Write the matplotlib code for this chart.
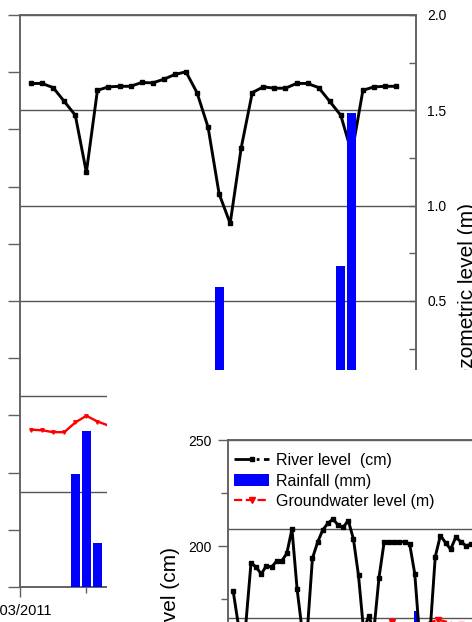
import numpy as np
import matplotlib
matplotlib.use("Agg")
import matplotlib.pyplot as plt
from matplotlib.patches import Rectangle, Patch
from matplotlib.lines import Line2D
from matplotlib.transforms import ScaledTranslation
from matplotlib.ticker import MultipleLocator, FixedLocator, FixedFormatter, FuncFormatter

plt.rcParams['font.family'] = ['Liberation Sans', 'DejaVu Sans']

# ---------------- data: main panel (daily series) ----------------
top_days = list(range(34))
top_river = [1.641, 1.641, 1.619, 1.547, 1.474, 1.175, 1.605, 1.623, 1.626, 1.626,
             1.646, 1.644, 1.663, 1.688, 1.702, 1.593, 1.412, 1.062, 0.907, 1.304,
             1.593, 1.623, 1.616, 1.616, 1.641, 1.641, 1.619, 1.547, 1.474, 1.274,
             1.605, 1.623, 1.626, 1.626]
top_gw_days = list(range(8))
top_gw = [-0.175, -0.178, -0.188, -0.188, -0.137, -0.102, -0.132, -0.153]
top_rain_days = [4, 5, 6, 17, 28, 29]
top_rain = [19.8, 27.3, 7.7, 52.4, 56.1, 82.9]
top_xticks_major = [-1, 11, 23]
top_xticklabels = ["01/03/2011", "", ""]
top_xticks_minor = [5, 17, 29]

# ---------------- data: inset panel ----------------
br_days = [0.5, 1.7, 2.8] + list(range(4, 48))
br_river = [178.9, 160, 158,
            192.1, 190.0, 186.8, 190.7, 190.0, 192.9, 192.9, 196.6, 208.0, 179.7,
            160, 160, 194.2, 201.7, 207.5, 210.7, 212.7, 209.9, 208.8, 212.0,
            203.4, 186.1, 160, 167.0, 160, 185.0, 201.7, 201.7, 202.0, 202.0,
            202.0, 200.9, 186.8, 155, 150, 160, 195.0, 204.9, 201.6, 198.4,
            204.1, 202.0, 200.1, 200.8]
br_rain_days = [36.3]
br_rain = [46.2]
br_gw_days = [27, 31.5, 36, 40.6, 45]
br_gw = [0.95, 0.975, 0.95, 0.99, 0.96]

W, H, DPI = 472, 622, 100
fig = plt.figure(figsize=(W / DPI, H / DPI), dpi=DPI)
fig.patch.set_facecolor('white')


def box(l, t, r, b):
    return [l / W, 1 - b / H, (r - l) / W, (b - t) / H]


SP = '#606060'
GRID = '#555555'

# ---------------- main panel ----------------
ax1 = fig.add_axes(box(20, 15, 416, 587))
ax1r = ax1.twinx()
ax1r.set_zorder(0)
ax1.set_zorder(0.5)
ax1.patch.set_visible(False)

ax1r.plot(top_days, top_river, color='black', lw=2.1, marker='s', ms=2.2,
          zorder=3)
ax1r.plot(top_gw_days, top_gw, color='red', lw=1.7, marker='v', ms=2.5,
          zorder=3)
ax1.bar(top_rain_days, top_rain, width=0.8, color='#0000FF', zorder=4)

ax1.set_xlim(-1, 34.8)
ax1.set_ylim(0, 100)
ax1.yaxis.set_major_locator(MultipleLocator(10))
ax1.tick_params(axis='y', which='major', direction='out', length=9, width=1,
                color=SP, labelleft=False)
ax1.xaxis.set_major_locator(FixedLocator(top_xticks_major))
ax1.xaxis.set_major_formatter(FixedFormatter(top_xticklabels))
ax1.xaxis.set_minor_locator(FixedLocator(top_xticks_minor))
ax1.tick_params(axis='x', which='major', direction='out', length=7.5, width=1,
                color=SP, labelsize=10.5, pad=5)
ax1.tick_params(axis='x', which='minor', direction='out', length=4.5, width=1,
                color=SP)
shift = ScaledTranslation(-4 / DPI, 0, fig.dpi_scale_trans)
for lab in ax1.get_xticklabels():
    lab.set_transform(lab.get_transform() + shift)

ax1r.set_ylim(-1, 2)
ax1r.yaxis.set_major_locator(MultipleLocator(0.5))
ax1r.yaxis.set_minor_locator(MultipleLocator(0.25))
# labels below 0.5 lie in the hidden (covered) part of the panel
ax1r.yaxis.set_major_formatter(FuncFormatter(lambda v, p: f'{v:.1f}' if v > 0.25 else ''))
ax1r.tick_params(axis='y', which='both', direction='in', length=5, width=1,
                 color=SP, labelsize=10, pad=8)
ax1r.grid(axis='y', which='major', color=GRID, lw=1.0)
ax1r.set_ylabel('Piezometric level (m)', fontsize=15)
ax1r.yaxis.set_label_coords(1.105, 0.5)

for a in (ax1, ax1r):
    for s in a.spines.values():
        s.set_color(SP)
        s.set_linewidth(1.1)

# white cover for the lower right part
fig.add_artist(Rectangle((107 / W, 0), (W - 107) / W, (H - 370) / H,
                         transform=fig.transFigure, facecolor='white',
                         edgecolor='none', zorder=1))

# ---------------- inset panel (lower right) ----------------
pos = box(228, 440, 728, 758)
axg = fig.add_axes(pos)          # groundwater / grid axis
axg.set_zorder(2.0)
axb = fig.add_axes(pos)          # rainfall
axb.set_zorder(2.05)
axb.patch.set_visible(False)
axr = fig.add_axes(pos)          # river level (left axis)
axr.set_zorder(2.1)
axr.patch.set_visible(False)

for a in (axg, axb, axr):
    a.set_xlim(-0.5, 97.2)

axg.set_ylim(0.2135, 2.0)
axg.yaxis.set_major_locator(MultipleLocator(0.5))
axg.yaxis.tick_right()
axg.tick_params(axis='y', labelright=False)
axg.grid(axis='y', which='major', color=GRID, lw=1.0)
axg.set_xticks([])
axg.plot(br_gw_days, br_gw, color='red', lw=1.6, ls='--', marker='v', ms=4)

axb.set_ylim(0, 100)
axb.axis('off')
axb.bar(br_rain_days, br_rain, width=1.1, color='#0000FF')

axr.set_ylim(100, 250)
axr.yaxis.set_major_locator(MultipleLocator(50))
axr.yaxis.set_minor_locator(MultipleLocator(25))
axr.tick_params(axis='y', which='major', direction='out', length=7.5, width=1,
                color=SP, labelsize=10, pad=4.5)
axr.tick_params(axis='y', which='minor', direction='out', length=5, width=1,
                color=SP)
axr.set_xticks([])
axr.plot(br_days, br_river, color='black', lw=2.1, marker='s', ms=2.2)
axr.set_ylabel('River level (cm)', fontsize=15)
axr.yaxis.set_label_coords(-0.097, 0.434)

for a in (axg, axb, axr):
    for s in a.spines.values():
        s.set_color(SP)
        s.set_linewidth(1.1)

handles = [Line2D([], [], color='black', lw=2.0, ls='-.', marker='s', ms=2.2),
           Patch(facecolor='#0000FF', edgecolor='none'),
           Line2D([], [], color='red', lw=1.6, ls='--', marker='v', ms=4)]
labels = ['River level  (cm)', 'Rainfall (mm)', 'Groundwater level (m)']
axr.legend(handles, labels, loc='upper left', bbox_to_anchor=(-0.010, 0.995),
           frameon=False, fontsize=11.5, handlelength=2.2, handleheight=0.85,
           handletextpad=0.4, labelspacing=0.36, borderaxespad=0.3, numpoints=1)

fig.savefig('out.png', dpi=DPI)
